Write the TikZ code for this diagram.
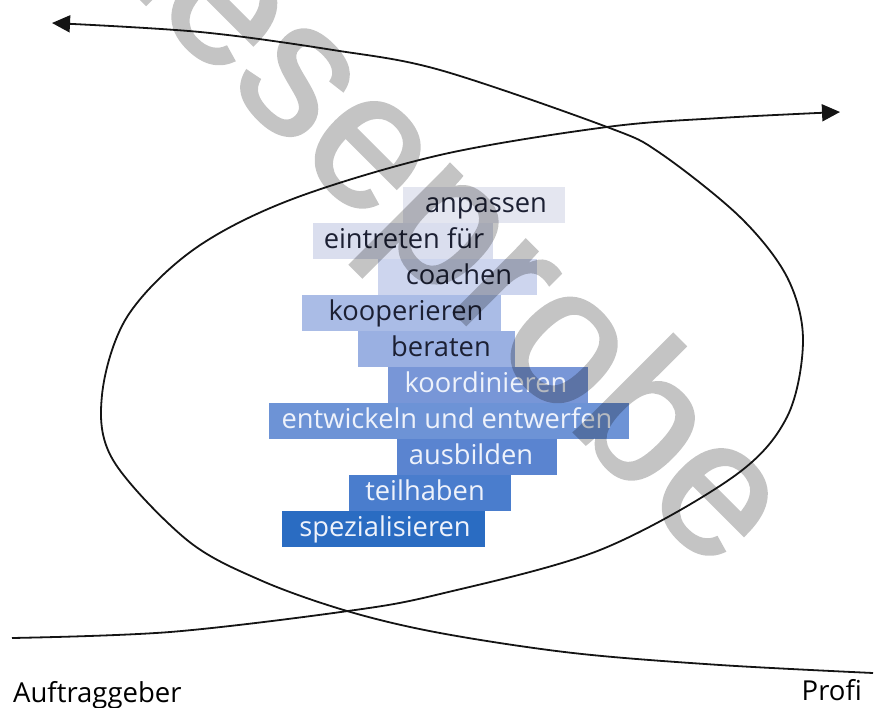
\documentclass[tikz,border=0pt]{standalone}
\usepackage{fontspec}
\setmainfont{Open Sans}
\newfontfamily\stampfont[FakeBold=1.5]{Liberation Sans}
\usetikzlibrary{arrows.meta}

% step colours, light (top) to strong blue (bottom)
\definecolor{s1}{HTML}{E4E6F0}
\definecolor{s2}{HTML}{DADEEE}
\definecolor{s3}{HTML}{CDD5EE}
\definecolor{s4}{HTML}{AABCE6}
\definecolor{s5}{HTML}{9AB0E2}
\definecolor{s6}{HTML}{7896D7}
\definecolor{s7}{HTML}{6D93D6}
\definecolor{s8}{HTML}{5A84D0}
\definecolor{s9}{HTML}{4A7DCD}
\definecolor{s10}{HTML}{2A6CC2}
\definecolor{dk}{HTML}{1C2033}
\definecolor{lt}{HTML}{EEF2FB}

\begin{document}
\begin{tikzpicture}[x=1pt,y=-1pt,
  tag/.style={rectangle, inner sep=0pt, minimum height=36pt, anchor=north west},
  word/.style={anchor=base, inner sep=0pt, font=\fontsize{27.3}{30}\selectfont},
  side/.style={inner sep=0pt, font=\fontsize{27.5}{30}\selectfont, text=black},
  curve/.style={line width=1.8pt, black!92, line join=round},
  tip/.style={-{Triangle[length=18pt,width=17pt]}}]

\useasboundingbox (0,0) rectangle (874,708);

% staircase of activities
\foreach \n/\a/\b/\c/\f/\t/\s [count=\i from 0] in {
  anpassen/403/565/486/s1/dk/anpassen,
  eintreten/313/493/404/s2/dk/eintreten für,
  coachen/378/537/459/s3/dk/coachen,
  kooperieren/302/501/406/s4/dk/kooperieren,
  beraten/358/515/441/s5/dk/beraten,
  koordinieren/388/588/486/s6/lt/koordinieren,
  entwickeln/269/629/447/s7/lt/entwickeln und entwerfen,
  ausbilden/397/557/471/s8/lt/ausbilden,
  teilhaben/349/511/425/s9/lt/teilhaben,
  spezialisieren/282/485/385/s10/lt/spezialisieren}
{
  \pgfmathsetmacro{\rowtop}{187+36*\i}
  \pgfmathsetmacro{\rowwd}{\b-\a}
  \node[tag, fill=\f, minimum width=\rowwd pt] (box-\n) at (\a,\rowtop) {};
  \node[word, text=\t] (txt-\n) at (\c,\rowtop+25.5) {\s};
}

% stamp across the figure, composited as one layer
\begin{scope}[transparency group, opacity=0.23]
  \node[rotate=-45, anchor=base west, inner sep=0pt, text=black,
        font=\stampfont\fontsize{192}{192}\selectfont] (stamp) at (75,-67) {Leseprobe};
\end{scope}

% end points of the two curves
\coordinate (aStart) at (12,638);
\coordinate (aEnd) at (52,23);
\coordinate (bStart) at (873,673);
\coordinate (bEnd) at (840,112);

% curve from the lower left, round the right, back to the upper left
\draw[curve, tip] plot[smooth, tension=0.55] coordinates {
  (aStart) (170,632) (348,611) (440,594) (600,550) (733,477) (787,417)
  (803,340) (787,277) (740,217) (660,153) (607,127) (440,70) (333,50)
  (200,32) (aEnd)};

% curve from the lower right, round the left, out to the upper right
\draw[curve, tip] plot[smooth, tension=0.55] coordinates {
  (bStart) (720,665) (573,653) (440,633) (347,611) (260,580) (187,540)
  (113,460) (102,395) (127,317) (193,250) (290,200) (440,155) (607,127)
  (720,118) (bEnd)};

% the two ends
\node[side, anchor=base west] (client) at (13,702) {Auftraggeber};
\node[side, anchor=base east] (pro) at (862,700) {Profi};
\end{tikzpicture}
\end{document}
